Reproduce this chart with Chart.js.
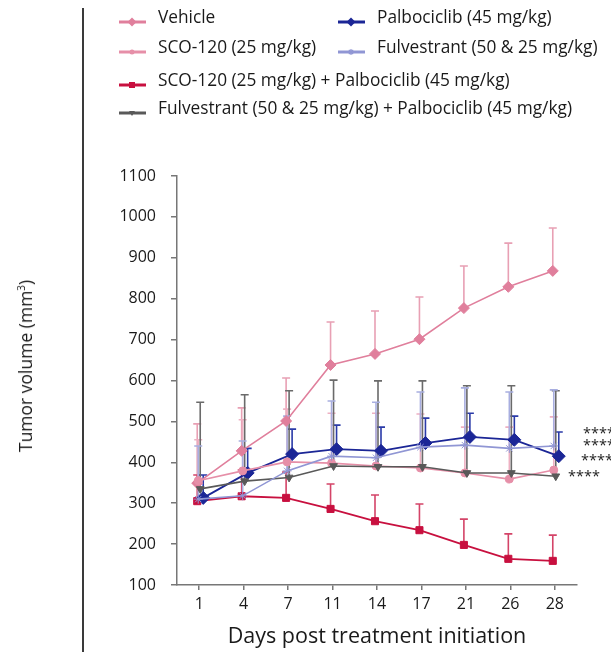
<!DOCTYPE html>
<html><head><meta charset="utf-8">
<script src="https://cdn.jsdelivr.net/npm/chart.js@4"></script>
<style>
body{margin:0;background:#fff;font-family:"Open Sans",sans-serif;}
#wrap{position:relative;width:611px;height:652px;overflow:hidden;}
canvas{position:absolute;left:0;top:0;}
.vline{position:absolute;left:82px;top:8px;width:2px;height:644px;background:#3a3a3a;}
.ytitle{position:absolute;left:25px;top:366px;transform:translate(-50%,-50%) rotate(-90deg);white-space:nowrap;font-size:17.5px;color:#1a1a1a;}
.leg{position:absolute;font-size:17.3px;color:#1a1a1a;white-space:nowrap;line-height:24px;}
.legsym{position:absolute;}
</style></head>
<body>
<div id="wrap">
<canvas id="c" width="611" height="652"></canvas>
<div class="vline"></div>
<div class="ytitle">Tumor volume (mm<sup style="font-size:10px;vertical-align:7px;line-height:0">3</sup>)</div>
<div id="legend"></div>
</div>
<script>
// ---- data ----
const days = ['1','4','7','11','14','17','21','26','28'];
const seriesNames = [
  'Vehicle',
  'SCO-120 (25 mg/kg)',
  'SCO-120 (25 mg/kg) + Palbociclib (45 mg/kg)',
  'Fulvestrant (50 & 25 mg/kg) + Palbociclib (45 mg/kg)',
  'Palbociclib (45 mg/kg)',
  'Fulvestrant (50 & 25 mg/kg)'
];
// mean tumor volume
const vehicle      = [349, 428, 501, 638, 665, 701, 777, 829, 868];
const sco120       = [355, 379, 401, 398, 391, 386, 374, 359, 381];
const sco120Palbo  = [305, 317, 313, 286, 256, 234, 198, 164, 159];
const fulvPalbo    = [335, 354, 363, 391, 389, 389, 374, 374, 366];
const palbo        = [313, 374, 420, 432, 428, 447, 462, 455, 415];
const fulv         = [310, 318, 379, 415, 411, 437, 442, 434, 440];
// mean + SEM (upper end of error bar)
const vehicleUp     = [494, 533, 606, 743, 770, 804, 880, 936, 973];
const sco120Up      = [455, 504, 530, 520, 520, 518, 486, 486, 511];
const sco120PalboUp = [369, 381, 376, 347, 320, 298, 261, 225, 222];
const fulvPalboUp   = [547, 565, 575, 601, 599, 599, 587, 587, 575];
const palboUp       = [369, 434, 481, 491, 486, 508, 520, 513, 474];
const fulvUp        = [440, 452, 513, 550, 547, 572, 582, 572, 577];
const sigLabels = ['****', '****', '****', '****'];
const yTicks = {min: 100, max: 1100, step: 100};

const FONT = '"Open Sans", sans-serif';

const styles = [
  {color:'#e07f9c', err:'#e8a0b4', shape:'rectRot', r:5.5, rot:0, dx:-2, w:1.6},
  {color:'#e68fa8', err:'#eeb0c2', shape:'circle',  r:4,   rot:0, dx:-1, w:1.6},
  {color:'#c8103f', err:'#d44468', shape:'rect',    r:5,   rot:0, dx:-2, w:1.8},
  {color:'#595959', err:'#6a6a6a', shape:'triangle',r:4.5, rot:180, dx:1, w:1.6},
  {color:'#1b2696', err:'#2a3aa8', shape:'rectRot', r:6.5, rot:0, dx:4, w:1.8},
  {color:'#9096d4', err:'#a8aee0', shape:'star',    r:4.5, rot:0, dx:-1, w:1.6}
];
const means = [vehicle, sco120, sco120Palbo, fulvPalbo, palbo, fulv];
const uppers = [vehicleUp, sco120Up, sco120PalboUp, fulvPalboUp, palboUp, fulvUp];
const drawOrder = [5, 2, 4, 1, 3, 0]; // lower is on top

const datasets = means.map((m, i) => ({
  label: seriesNames[i],
  data: m,
  upper: uppers[i],
  dx: styles[i].dx,
  errColor: styles[i].err,
  borderColor: styles[i].color,
  backgroundColor: styles[i].color,
  borderWidth: styles[i].w,
  pointStyle: styles[i].shape,
  pointRadius: styles[i].r,
  pointRotation: styles[i].rot,
  pointBorderWidth: 1,
  pointBackgroundColor: styles[i].color,
  pointBorderColor: styles[i].color,
  order: drawOrder[i],
  tension: 0
}));

const dodgePlugin = {
  id: 'dodge',
  afterDatasetsUpdate(chart) {
    chart.data.datasets.forEach((ds, i) => {
      const meta = chart.getDatasetMeta(i);
      meta.data.forEach(p => { p.x += ds.dx || 0; });
    });
  }
};

const errorBarPlugin = {
  id: 'errbars',
  beforeDatasetsDraw(chart) {
    const ctx = chart.ctx, y = chart.scales.y;
    const idx = chart.data.datasets.map((d, i) => i).sort((a, b) => chart.data.datasets[b].order - chart.data.datasets[a].order);
    ctx.save();
    idx.forEach(i => {
      const ds = chart.data.datasets[i];
      const meta = chart.getDatasetMeta(i);
      ctx.strokeStyle = ds.errColor;
      ctx.lineWidth = 1.6;
      meta.data.forEach((p, j) => {
        const yt = y.getPixelForValue(ds.upper[j]);
        ctx.beginPath();
        ctx.moveTo(p.x, p.y);
        ctx.lineTo(p.x, yt);
        ctx.moveTo(p.x - 4, yt);
        ctx.lineTo(p.x + 4, yt);
        ctx.stroke();
      });
    });
    ctx.restore();
  }
};

const sigPlugin = {
  id: 'sig',
  afterDraw(chart) {
    const ctx = chart.ctx, y = chart.scales.y, a = chart.chartArea;
    const pos = [[6, 477], [6, 448], [4, 411], [-9, 371]];
    ctx.save();
    ctx.font = '14.5px ' + FONT;
    ctx.fillStyle = '#222';
    ctx.textBaseline = 'middle';
    ctx.textAlign = 'left';
    sigLabels.forEach((t, i) => {
      ctx.fillText(t, a.right + pos[i][0], y.getPixelForValue(pos[i][1]) + 3);
    });
    ctx.restore();
  }
};

new Chart(document.getElementById('c'), {
  type: 'line',
  data: {labels: days, datasets},
  plugins: [dodgePlugin, errorBarPlugin, sigPlugin],
  options: {
    responsive: false,
    animation: false,
    devicePixelRatio: 1,
    layout: {padding: {left: 0, right: 34, top: 176, bottom: 0}},
    plugins: {legend: {display: false}, tooltip: {enabled: false}},
    scales: {
      x: {
        type: 'category', offset: true,
        grid: {display: true, drawOnChartArea: false, tickLength: 5, color: '#777', lineWidth: 1.5},
        border: {color: '#777', width: 1.5},
        ticks: {font: {family: FONT, size: 16}, color: '#1a1a1a', padding: 5, maxRotation: 0},
        title: {display: true, text: 'Days post treatment initiation', font: {family: FONT, size: 21.5}, color: '#1a1a1a', padding: {top: 0, bottom: 2}},
        afterFit(s) { s.height = 67; }
      },
      y: {
        min: yTicks.min, max: yTicks.max,
        grid: {display: true, drawOnChartArea: false, tickLength: 6, color: '#777', lineWidth: 1.5},
        border: {color: '#777', width: 1.5},
        ticks: {stepSize: yTicks.step, font: {family: FONT, size: 16}, color: '#1a1a1a', padding: 15,
                callback: v => String(v)},
        afterFit(s) { s.width = 177; }
      }
    }
  }
});

// ---- HTML legend ----
const legendSlots = [
  {i: 0, x: 119, y: 17}, {i: 4, x: 338, y: 17},
  {i: 1, x: 119, y: 47}, {i: 5, x: 338, y: 47},
  {i: 2, x: 119, y: 80},
  {i: 3, x: 119, y: 108}
];
function symSvg(st) {
  const c = st.color, cx = 13, cy = 6;
  let m = '';
  if (st.shape === 'rectRot') m = `<polygon points="${cx},${cy-4.5} ${cx+4.5},${cy} ${cx},${cy+4.5} ${cx-4.5},${cy}" fill="${c}"/>`;
  else if (st.shape === 'circle') m = `<circle cx="${cx}" cy="${cy}" r="2.5" fill="${c}"/>`;
  else if (st.shape === 'rect') m = `<rect x="${cx-3}" y="${cy-3}" width="6" height="6" fill="${c}"/>`;
  else if (st.shape === 'triangle') m = `<polygon points="${cx-3},${cy-2} ${cx+3},${cy-2} ${cx},${cy+3}" fill="${c}"/>`;
  else if (st.shape === 'star') m = `<path d="M${cx-3} ${cy}H${cx+3}M${cx} ${cy-3}V${cy+3}M${cx-2.2} ${cy-2.2}L${cx+2.2} ${cy+2.2}M${cx-2.2} ${cy+2.2}L${cx+2.2} ${cy-2.2}" stroke="${c}" stroke-width="1.2"/>`;
  return `<svg width="27" height="12" viewBox="0 0 27 12"><line x1="0" y1="6" x2="27" y2="6" stroke="${c}" stroke-width="3"/>${m}</svg>`;
}
const lg = document.getElementById('legend');
legendSlots.forEach(s => {
  const sym = document.createElement('div');
  sym.className = 'legsym';
  sym.style.left = s.x + 'px';
  sym.style.top = (s.y - 6) + 'px';
  sym.innerHTML = symSvg(styles[s.i]);
  lg.appendChild(sym);
  const t = document.createElement('div');
  t.className = 'leg';
  t.style.left = (s.x + 39) + 'px';
  t.style.top = (s.y - 12) + 'px';
  t.textContent = seriesNames[s.i];
  lg.appendChild(t);
});
</script>
</body></html>
